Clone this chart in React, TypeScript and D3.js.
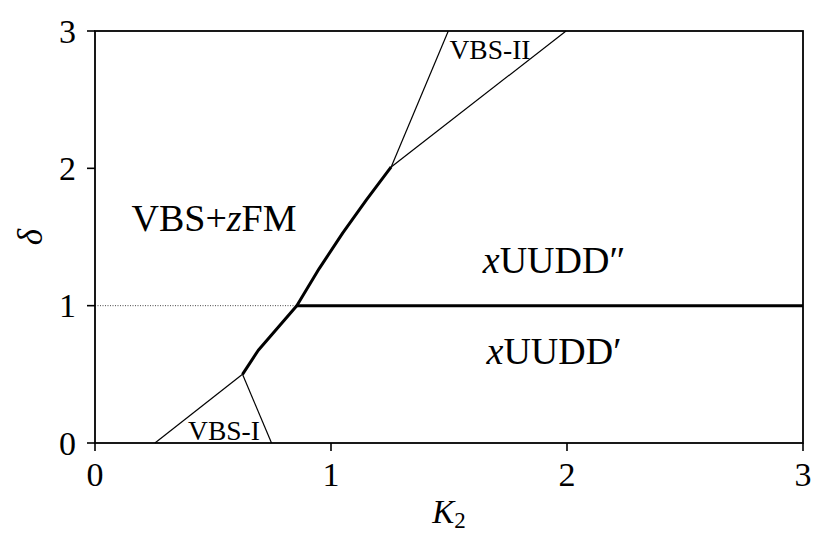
import React from 'react';
import * as d3 from 'd3';

// phase boundaries
const thickK2 = [0.625, 0.692, 0.855, 0.95, 1.05, 1.15, 1.255];
const thickDelta = [0.5, 0.675, 1.0, 1.27, 1.53, 1.77, 2.01];
const lineY1K2 = [0.855, 3];
const dottedK2 = [0, 0.855];
const vbs1Left = { k2: [0.254, 0.625], delta: [0, 0.5] };
const vbs1Right = { k2: [0.625, 0.748], delta: [0.5, 0] };
const vbs2Left = { k2: [1.255, 1.497], delta: [2.01, 3] };
const vbs2Right = { k2: [1.255, 1.996], delta: [2.01, 3] };
const ticks = [0, 1, 2, 3];

const W = 831;
const H = 554;
const margin = { top: 31, right: 28, bottom: 111, left: 95 };
const font = '"Liberation Serif", "DejaVu Serif", serif';

export default function App() {
  const x = d3.scaleLinear().domain([0, 3]).range([margin.left, W - margin.right]);
  const y = d3.scaleLinear().domain([0, 3]).range([H - margin.bottom, margin.top]);
  const line = d3.line<[number, number]>().x(d => x(d[0])).y(d => y(d[1]));
  const pts = (a: number[], b: number[]) => a.map((v, i) => [v, b[i]] as [number, number]);

  const x0 = x(0), x1 = x(3), y0 = y(0), y1 = y(3);

  return (
    <svg width={W} height={H} style={{ position: 'absolute', left: 0, top: 0, background: '#fff' }}>
      <g fontFamily={font} fill="#000">
        {/* thin VBS wedge lines */}
        {[vbs1Left, vbs1Right, vbs2Left, vbs2Right].map((s, i) => (
          <path key={i} d={line(pts(s.k2, s.delta)) || ''} fill="none" stroke="#000" strokeWidth={1.2} />
        ))}
        <path d={line(pts(dottedK2, [1, 1])) || ''} fill="none" stroke="#333" strokeWidth={0.9} strokeDasharray="1,1.5" />
        <path d={line(pts(thickK2, thickDelta)) || ''} fill="none" stroke="#000" strokeWidth={3} strokeLinejoin="round" />
        <path d={line(pts(lineY1K2, [1, 1])) || ''} fill="none" stroke="#000" strokeWidth={3} />

        {/* frame */}
        <rect x={x0} y={y1} width={x1 - x0} height={y0 - y1} fill="none" stroke="#000" strokeWidth={1.8} />

        {/* ticks */}
        {ticks.map(t => (
          <g key={'x' + t}>
            <line x1={x(t)} x2={x(t)} y1={y0} y2={y0 + 8} stroke="#000" strokeWidth={1.6} />
            <text x={x(t)} y={y0 + 43} fontSize={34} textAnchor="middle">{t}</text>
          </g>
        ))}
        {ticks.map(t => (
          <g key={'y' + t}>
            <line x1={x0 - 8} x2={x0} y1={y(t)} y2={y(t)} stroke="#000" strokeWidth={1.6} />
            <text x={x0 - 19} y={y(t) + 11.5} fontSize={34} textAnchor="end">{t}</text>
          </g>
        ))}

        {/* axis labels */}
        <text x={449} y={523} fontSize={33} textAnchor="middle">
          <tspan fontStyle="italic">K</tspan>
          <tspan fontSize={23} dy={5}>2</tspan>
        </text>
        <text transform={`translate(42,${(y0 + y1) / 2}) rotate(-90)`} fontSize={35} fontStyle="italic" textAnchor="middle">δ</text>

        {/* region labels */}
        <text x={214} y={231} fontSize={38} textAnchor="middle">
          VBS+<tspan fontStyle="italic">z</tspan>FM
        </text>
        <text x={554} y={273} fontSize={38} textAnchor="middle">
          <tspan fontStyle="italic">x</tspan>UUDD″
        </text>
        <text x={554} y={364} fontSize={38} textAnchor="middle">
          <tspan fontStyle="italic">x</tspan>UUDD′
        </text>
        <text x={224} y={440} fontSize={27.5} textAnchor="middle">VBS-I</text>
        <text x={490} y={59} fontSize={27.5} textAnchor="middle">VBS-II</text>
      </g>
    </svg>
  );
}
